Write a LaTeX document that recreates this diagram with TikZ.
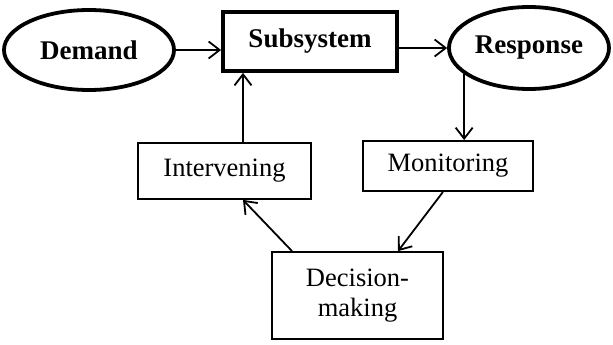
\documentclass[tikz,border=0pt]{standalone}
\usepackage{fontspec}
\setmainfont{Liberation Serif}
\usetikzlibrary{shapes.geometric,arrows.meta}
\begin{document}
\begin{tikzpicture}[x=1pt,y=-1pt,
  every node/.style={inner sep=0pt,font=\fontsize{26.5}{30}\selectfont},
  oval/.style={ellipse,draw,line width=3.8pt,font=\fontsize{27}{30}\selectfont\bfseries},
  mainbox/.style={rectangle,draw,line width=3.8pt,font=\fontsize{27}{30}\selectfont\bfseries},
  stagebox/.style={rectangle,draw,line width=1.8pt,align=center},
  flow/.style={line width=1.8pt,-{Straight Barb[length=11pt,width=17pt,line width=1.8pt]}}]
\useasboundingbox (0,0) rectangle (613,345);

% top row: demand, subsystem, response
\node[oval,minimum width=170pt,minimum height=80pt] (dem) at (89,50) {Demand};
\node[mainbox,minimum width=174pt,minimum height=59pt] (sub) at (310,41.5) {Subsystem};
\node[oval,minimum width=160pt,minimum height=82pt] (resp) at (529,48) {Response};

% control loop boxes
\node[stagebox,minimum width=173pt,minimum height=56pt] (int) at (224.5,171) {Intervening};
\node[stagebox,minimum width=170pt,minimum height=50pt] (mon) at (448,166) {Monitoring};
\node[stagebox,minimum width=171pt,minimum height=87pt] (dec) at (357.5,295.5) {Decision-\\making};

% connectors
\draw[flow] (dem.east) -- (dem.east -| sub.west);
\draw[flow] (resp.west -| sub.east) -- (resp.west);
\draw[flow] (resp.202) -- (resp.202 |- mon.north);
\draw[flow] ([xshift=-5pt]mon.south) -- ([xshift=40.5pt]dec.north);
\draw[flow] ([xshift=-65.5pt]dec.north) -- ([xshift=18.5pt]int.south);
\draw[flow] ([xshift=18.5pt]int.north) -- ([xshift=18.5pt]int.north |- sub.south);
\end{tikzpicture}
\end{document}
